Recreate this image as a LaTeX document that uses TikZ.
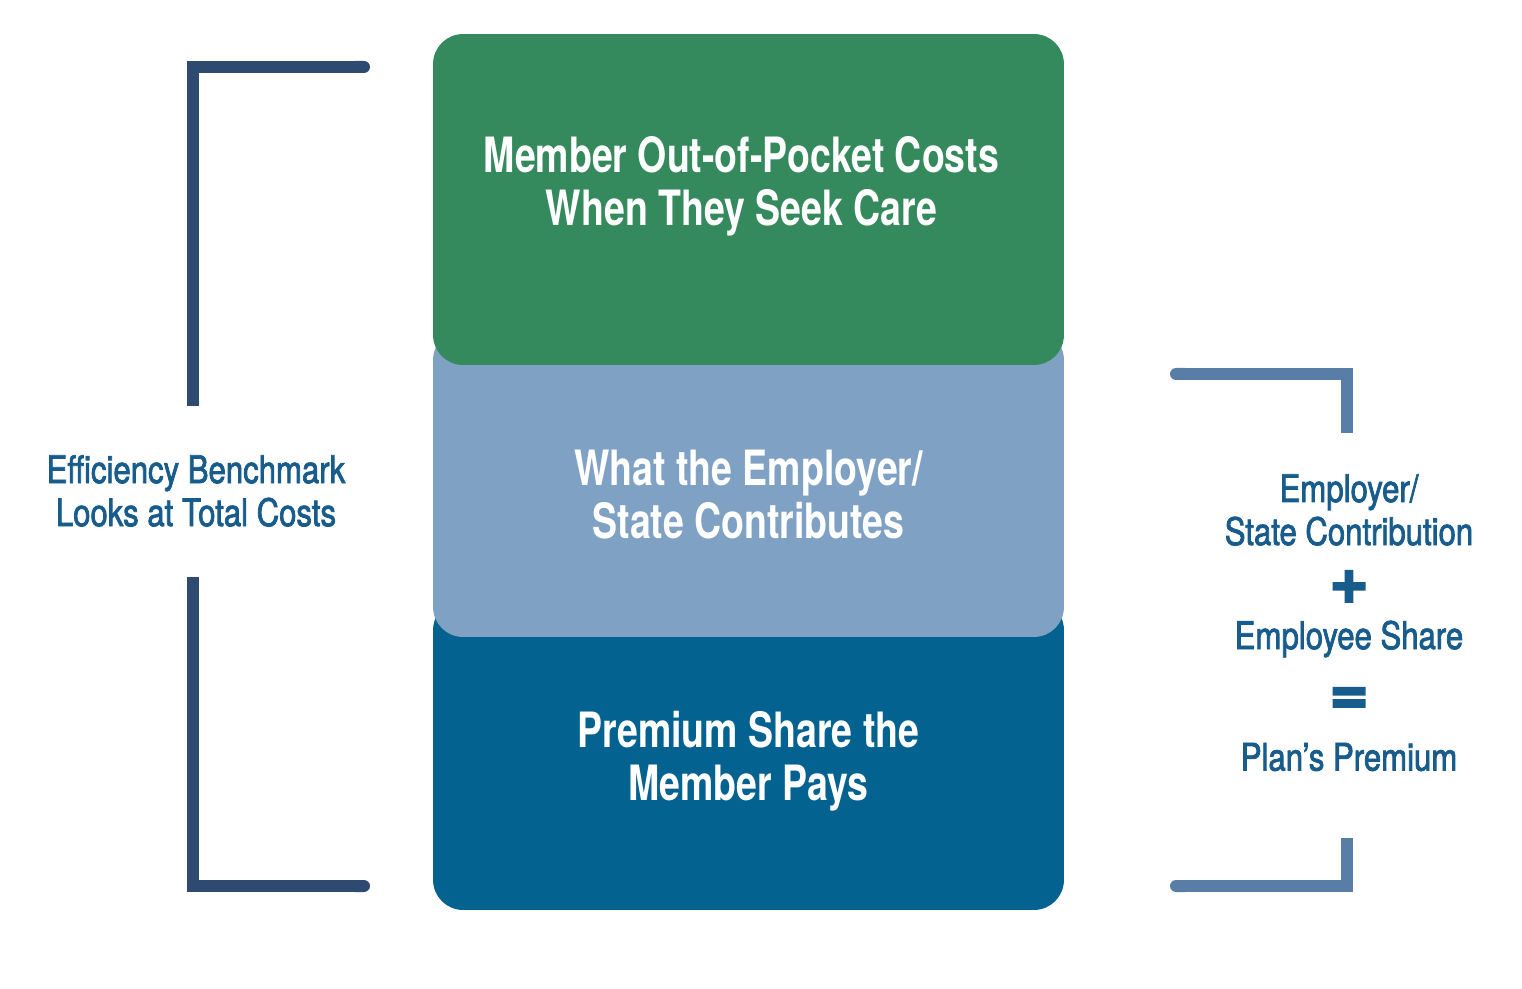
\documentclass[tikz,border=0pt]{standalone}
\usepackage{fontspec}
\setmainfont{TeX Gyre Heros}[FakeStretch=0.77]
\newfontfamily\sidefont{TeX Gyre Heros}[FakeStretch=0.82, FakeBold=2]
\newfontfamily\signfont{TeX Gyre Heros}[FakeBold=3]
\usetikzlibrary{arrows.meta,calc}
\definecolor{careGreen}{RGB}{52,138,92}
\definecolor{stateBlue}{RGB}{127,161,195}
\definecolor{memberBlue}{RGB}{3,98,143}
\definecolor{benchNavy}{RGB}{47,74,112}
\definecolor{sumSteel}{RGB}{88,125,167}
\definecolor{labelBlue}{RGB}{24,92,140}
\tikzset{
  every picture/.style={x=0.02cm, y=-0.02cm},
  band/.style={rounded corners=0.6cm, inner sep=0pt, draw=none, minimum width=12.62cm},
  bandtext/.style={text=white, align=center, inner sep=0pt, font=\fontsize{27.7}{30.2}\selectfont\bfseries},
  sidetext/.style={text=labelBlue, align=center, inner sep=0pt, font=\sidefont\fontsize{21.6}{24.5}\selectfont},
  sign/.style={text=labelBlue, inner sep=0pt, font=\signfont\fontsize{38}{38}\selectfont\bfseries},
  benchbar/.style={draw=benchNavy, line width=0.24cm, -{Round Cap}},
  sumbar/.style={draw=sumSteel, line width=0.24cm, -{Round Cap}},
}

\begin{document}
\begin{tikzpicture}
  \useasboundingbox (0,0) rectangle (1522,989);
  % stacked cost bands, bottom one first
  \node[band, fill=memberBlue, minimum height=6.2cm] (member) at (748.5,755) {};
  \node[band, fill=stateBlue, minimum height=6.14cm] (state) at (748.5,483.5) {};
  \node[band, fill=careGreen, minimum height=6.62cm] (care) at (748.5,199.5) {};
  \node[bandtext] (careText) at ($(care.center)+(-7,-13)$) {Member Out-of-Pocket Costs\\When They Seek Care};
  \node[bandtext] (stateText) at ($(state.center)+(0,11)$) {What the Employer/\\State Contributes};
  \node[bandtext] (memberText) at ($(member.center)+(0,6)$) {Premium Share the\\Member Pays};
  % left bracket
  \node[sidetext] (bench) at (196,491) {Efficiency Benchmark\\Looks at Total Costs};
  \draw[benchbar] (193,406) -- (193,67) -- (370,67);
  \draw[benchbar] (193,577) -- (193,886) -- (370,886);
  % right bracket and sum
  \node[sidetext] (contrib) at (1349,510) {Employer/\\State Contribution};
  \node[sign] (plus) at (1349,587) {+};
  \node[sidetext] (share) at (1349,639) {Employee Share};
  \node[sign] (equals) at (1349,701) {=};
  \node[sidetext] (premium) at (1349,757) {Plan’s Premium};
  \draw[sumbar] (1347,433) -- (1347,374) -- (1170,374);
  \draw[sumbar] (1347,838) -- (1347,886) -- (1170,886);
\end{tikzpicture}
\end{document}
